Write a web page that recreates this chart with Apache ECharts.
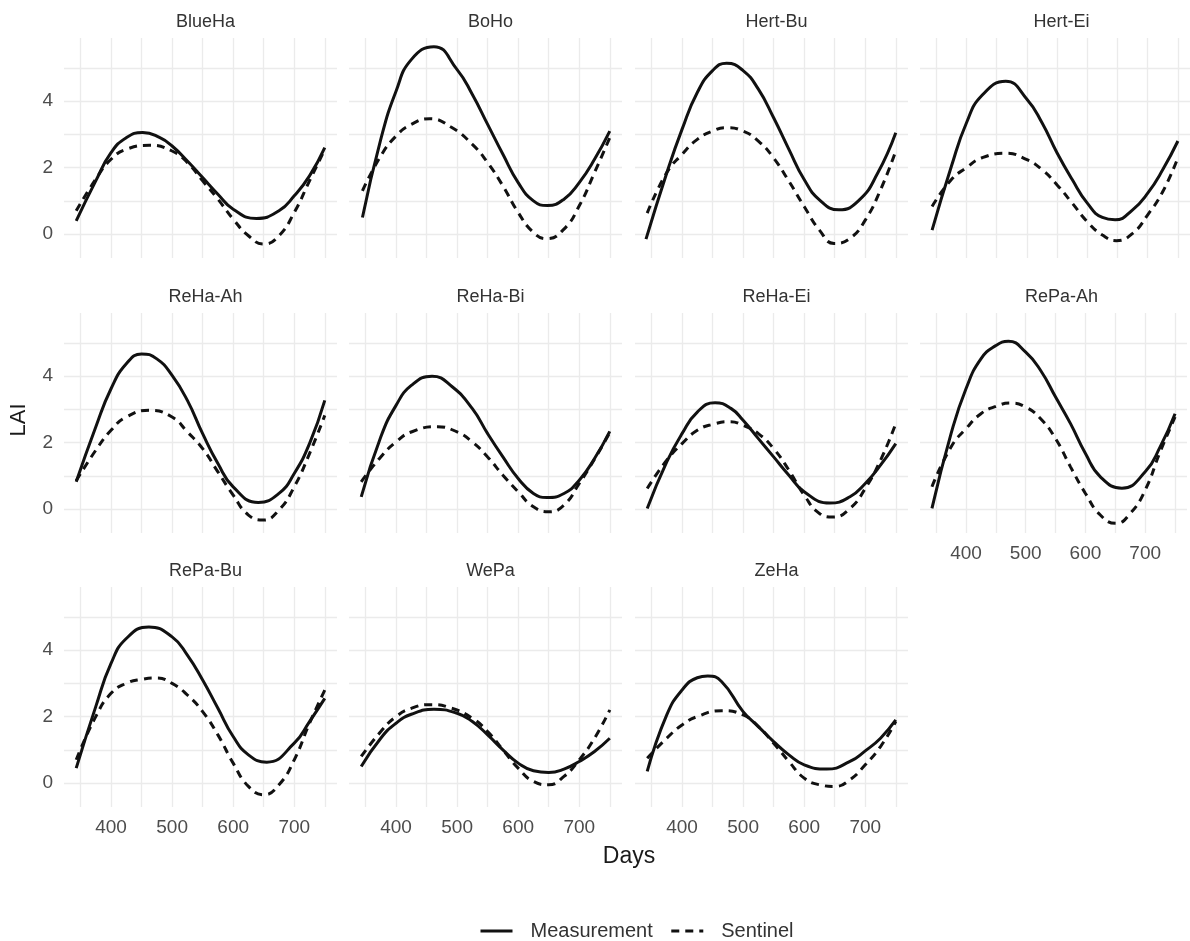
<!DOCTYPE html>
<html>
<head>
<meta charset="utf-8">
<title>LAI: Measurement vs Sentinel</title>
<script src="https://cdn.jsdelivr.net/npm/echarts@6/dist/echarts.min.js"></script>
<style>
  html, body { margin: 0; padding: 0; background: #fff; }
  #chart { width: 1190px; height: 941px; }
</style>
</head>
<body>
<div id="chart"></div>
<script>
// facet titles, in panel order (4 per row)
const sites = ['BlueHa', 'BoHo', 'Hert-Bu', 'Hert-Ei', 'ReHa-Ah', 'ReHa-Bi', 'ReHa-Ei', 'RePa-Ah', 'RePa-Bu', 'WePa', 'ZeHa']

const blueHaMeasurement = [[343, 0.4], [375, 1.6], [400, 2.45], [425, 2.9], [452, 3.06], [480, 2.9], [500, 2.65], [525, 2.2], [550, 1.7], [575, 1.2], [600, 0.75], [638, 0.47], [675, 0.7], [700, 1.15], [725, 1.75], [750, 2.6]]
const blueHaSentinel = [[343, 0.7], [375, 1.65], [400, 2.25], [425, 2.55], [463, 2.67], [500, 2.5], [525, 2.15], [550, 1.6], [575, 1.05], [600, 0.45], [625, -0.05], [650, -0.3], [675, -0.05], [700, 0.65], [725, 1.6], [750, 2.55]]
const boHoMeasurement = [[345, 0.5], [375, 2.85], [400, 4.3], [425, 5.25], [462, 5.64], [500, 4.95], [525, 4.2], [550, 3.3], [575, 2.4], [600, 1.55], [625, 1.0], [648, 0.86], [675, 1.05], [700, 1.55], [725, 2.25], [750, 3.1]]
const boHoSentinel = [[345, 1.3], [375, 2.35], [400, 2.95], [425, 3.3], [455, 3.47], [490, 3.22], [525, 2.7], [550, 2.15], [575, 1.45], [600, 0.65], [625, 0.05], [647, -0.14], [675, 0.15], [700, 0.85], [725, 1.85], [750, 2.9]]
const hertBuMeasurement = [[341, -0.15], [375, 1.84], [400, 3.15], [425, 4.26], [450, 4.92], [473, 5.14], [500, 4.92], [525, 4.36], [550, 3.5], [575, 2.55], [600, 1.64], [625, 1.03], [657, 0.73], [690, 1.02], [720, 1.82], [750, 3.05]]
const hertBuSentinel = [[343, 0.63], [375, 1.85], [400, 2.4], [425, 2.85], [450, 3.1], [473, 3.2], [500, 3.1], [525, 2.8], [550, 2.29], [575, 1.59], [600, 0.83], [625, 0.12], [649, -0.28], [675, -0.13], [700, 0.42], [725, 1.33], [748, 2.4]]
const hertEiMeasurement = [[343, 0.12], [375, 2.04], [400, 3.35], [425, 4.16], [465, 4.6], [500, 4.06], [525, 3.35], [550, 2.44], [575, 1.64], [600, 0.93], [625, 0.5], [646, 0.43], [675, 0.73], [700, 1.23], [725, 1.94], [750, 2.8]]
const hertEiSentinel = [[343, 0.83], [375, 1.64], [400, 2.0], [425, 2.29], [465, 2.43], [500, 2.24], [525, 1.94], [550, 1.48], [575, 0.93], [600, 0.37], [625, -0.03], [648, -0.2], [675, 0.02], [700, 0.58], [725, 1.28], [750, 2.3]]
const reHaAhMeasurement = [[343, 0.82], [375, 2.47], [400, 3.62], [425, 4.37], [450, 4.67], [475, 4.52], [500, 4.02], [525, 3.27], [550, 2.27], [575, 1.37], [600, 0.67], [641, 0.2], [675, 0.47], [700, 1.07], [725, 1.97], [750, 3.27]]
const reHaAhSentinel = [[343, 0.85], [375, 1.77], [400, 2.37], [425, 2.77], [463, 2.97], [500, 2.77], [525, 2.32], [550, 1.82], [575, 1.12], [600, 0.42], [625, -0.18], [649, -0.33], [675, -0.03], [700, 0.67], [725, 1.67], [750, 2.82]]
const reHaBiMeasurement = [[343, 0.37], [375, 2.17], [400, 3.12], [425, 3.72], [459, 4.0], [492, 3.68], [525, 3.02], [550, 2.27], [575, 1.57], [600, 0.92], [625, 0.47], [647, 0.35], [675, 0.47], [700, 0.87], [725, 1.52], [750, 2.34]]
const reHaBiSentinel = [[343, 0.82], [375, 1.57], [400, 2.02], [425, 2.32], [468, 2.48], [500, 2.32], [525, 2.02], [550, 1.57], [575, 1.02], [600, 0.52], [625, 0.07], [650, -0.08], [675, 0.12], [700, 0.77], [725, 1.5], [750, 2.3]]
const reHaEiMeasurement = [[343, 0.02], [375, 1.42], [400, 2.27], [425, 2.92], [454, 3.2], [480, 3.03], [500, 2.67], [525, 2.12], [550, 1.57], [575, 1.02], [600, 0.52], [642, 0.18], [675, 0.37], [700, 0.77], [725, 1.32], [750, 1.97]]
const reHaEiSentinel = [[343, 0.62], [375, 1.47], [400, 1.97], [425, 2.37], [450, 2.55], [478, 2.63], [500, 2.52], [525, 2.27], [550, 1.82], [575, 1.17], [600, 0.42], [625, -0.13], [647, -0.24], [675, 0.02], [700, 0.62], [725, 1.47], [750, 2.57]]
const rePaAhMeasurement = [[343, 0.02], [375, 2.27], [400, 3.62], [425, 4.52], [450, 4.92], [471, 5.05], [500, 4.72], [525, 4.17], [550, 3.37], [575, 2.57], [600, 1.67], [625, 0.97], [661, 0.63], [700, 1.12], [725, 1.87], [750, 2.87]]
const rePaAhSentinel = [[343, 0.67], [375, 1.87], [400, 2.42], [425, 2.87], [450, 3.09], [475, 3.19], [500, 3.07], [525, 2.72], [550, 2.12], [575, 1.27], [600, 0.47], [625, -0.18], [651, -0.43], [675, -0.13], [700, 0.57], [725, 1.72], [750, 2.77]]
const rePaBuMeasurement = [[343, 0.45], [375, 2.3], [400, 3.6], [425, 4.35], [462, 4.7], [500, 4.4], [525, 3.85], [550, 3.1], [575, 2.25], [600, 1.4], [625, 0.85], [655, 0.63], [700, 1.2], [725, 1.85], [750, 2.55]]
const rePaBuSentinel = [[343, 0.7], [375, 2.0], [400, 2.7], [425, 3.0], [450, 3.12], [475, 3.16], [500, 3.0], [525, 2.65], [550, 2.15], [575, 1.45], [600, 0.6], [625, -0.1], [650, -0.35], [675, -0.05], [700, 0.7], [725, 1.8], [750, 2.8]]
const wePaMeasurement = [[343, 0.5], [375, 1.35], [400, 1.8], [425, 2.07], [462, 2.22], [500, 2.1], [525, 1.85], [550, 1.45], [575, 1.0], [600, 0.6], [625, 0.37], [650, 0.32], [675, 0.42], [700, 0.65], [725, 0.95], [750, 1.35]]
const wePaSentinel = [[343, 0.8], [375, 1.55], [400, 2.0], [425, 2.25], [455, 2.36], [490, 2.26], [525, 1.95], [550, 1.55], [575, 1.0], [600, 0.45], [625, 0.05], [650, -0.05], [675, 0.2], [700, 0.7], [725, 1.35], [750, 2.2]]
const zeHaMeasurement = [[343, 0.35], [375, 2.05], [400, 2.8], [425, 3.17], [442, 3.22], [465, 3.05], [500, 2.15], [525, 1.7], [550, 1.25], [575, 0.85], [600, 0.55], [637, 0.42], [675, 0.65], [700, 0.97], [725, 1.35], [750, 1.9]]
const zeHaSentinel = [[343, 0.75], [375, 1.35], [400, 1.75], [425, 2.0], [465, 2.18], [500, 2.05], [525, 1.7], [550, 1.2], [575, 0.65], [600, 0.15], [625, -0.05], [650, -0.1], [675, 0.1], [700, 0.55], [725, 1.1], [750, 1.85]]

const measurement = [blueHaMeasurement, boHoMeasurement, hertBuMeasurement, hertEiMeasurement, reHaAhMeasurement,
    reHaBiMeasurement, reHaEiMeasurement, rePaAhMeasurement, rePaBuMeasurement, wePaMeasurement, zeHaMeasurement]
const sentinel = [blueHaSentinel, boHoSentinel, hertBuSentinel, hertEiSentinel, reHaAhSentinel,
    reHaBiSentinel, reHaEiSentinel, rePaAhSentinel, rePaBuSentinel, wePaSentinel, zeHaSentinel]

const xLabels = [400, 500, 600, 700]
const yLabels = [0, 2, 4]

// panel layout (px)
const PANEL_W = 273
const PANEL_H = 220
const COL_LEFT = [64, 349, 635, 920]
const ROW_TOP = [38, 313, 587]
const FONT = '"Liberation Sans", Arial, sans-serif'
const GRID_COLOR = '#ebebeb'
const INK = '#111'

const isNear = (v, list) => list.some(t => Math.abs(v - t) < 1e-6)

const grids = [], xAxes = [], yAxes = [], titles = [], series = []

sites.forEach((site, i) => {
    const col = i % 4
    const row = Math.floor(i / 4)
    const left = COL_LEFT[col]
    const top = ROW_TOP[row]
    const showX = i >= sites.length - 4
    const showY = col === 0

    grids.push({ left, top, width: PANEL_W, height: PANEL_H, containLabel: false })

    titles.push({
        text: site,
        left: left + PANEL_W / 2,
        top: top - 30,
        textAlign: 'center',
        textStyle: { fontFamily: FONT, fontSize: 18, fontWeight: 'normal', color: '#333' }
    })

    xAxes.push({
        type: 'value', gridIndex: i, min: 323, max: 770, splitNumber: 9,
        axisLine: { show: false }, axisTick: { show: false },
        axisLabel: {
            show: showX, margin: 11, fontFamily: FONT, fontSize: 19, color: '#4d4d4d',
            formatter: v => isNear(v, xLabels) ? String(Math.round(v)) : ''
        },
        splitLine: { show: true, showMinLine: false, showMaxLine: false, lineStyle: { color: GRID_COLOR, width: 1.3 } }
    })

    yAxes.push({
        type: 'value', gridIndex: i, min: -0.72, max: 5.9, splitNumber: 6,
        axisLine: { show: false }, axisTick: { show: false },
        axisLabel: {
            show: showY, margin: 11, fontFamily: FONT, fontSize: 19, color: '#4d4d4d',
            formatter: v => isNear(v, yLabels) ? String(Math.round(v)) : ''
        },
        splitLine: { show: true, showMinLine: false, showMaxLine: false, lineStyle: { color: GRID_COLOR, width: 1.3 } }
    })

    series.push({
        name: 'Measurement', type: 'line', xAxisIndex: i, yAxisIndex: i,
        data: measurement[i],
        smooth: 0.5, showSymbol: false, symbol: 'none', silent: true,
        itemStyle: { color: INK },
        lineStyle: { color: INK, width: 3, type: 'solid' }
    })
    series.push({
        name: 'Sentinel', type: 'line', xAxisIndex: i, yAxisIndex: i,
        data: sentinel[i],
        smooth: 0.5, showSymbol: false, symbol: 'none', silent: true,
        itemStyle: { color: INK },
        lineStyle: { color: INK, width: 3, type: [8, 6] }
    })
})

const option = {
    backgroundColor: '#fff',
    animation: false,
    title: titles,
    grid: grids,
    xAxis: xAxes,
    yAxis: yAxes,
    series,
    legend: {
        data: ['Measurement', 'Sentinel'],
        left: 474, top: 916,
        itemWidth: 32, itemHeight: 10, itemGap: 17,
        itemStyle: { opacity: 0 },
        lineStyle: { width: 3 },
        textStyle: { fontFamily: FONT, fontSize: 20, color: '#333', padding: [0, 0, 0, 13] }
    },
    graphic: [
        {
            type: 'text', x: 19, y: 420, rotation: Math.PI / 2,
            style: { text: 'LAI', font: '22px "Liberation Sans", Arial, sans-serif', fill: '#1a1a1a', textAlign: 'center', textVerticalAlign: 'middle' }
        },
        {
            type: 'text', x: 629, y: 857,
            style: { text: 'Days', font: '23px "Liberation Sans", Arial, sans-serif', fill: '#1a1a1a', textAlign: 'center', textVerticalAlign: 'middle' }
        }
    ]
}

const chart = echarts.init(document.getElementById('chart'))
chart.setOption(option)
</script>
</body>
</html>
